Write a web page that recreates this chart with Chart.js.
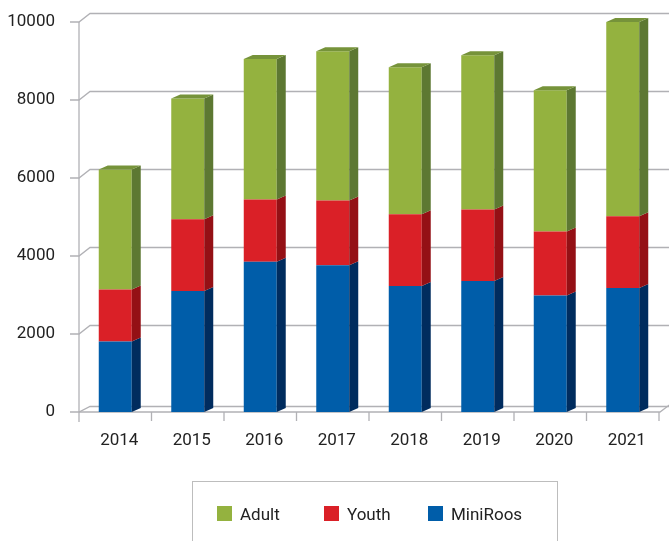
<!DOCTYPE html>
<html lang="en">
<head>
<meta charset="UTF-8">
<title>Registrations by year</title>
<script src="https://cdn.jsdelivr.net/npm/chart.js"></script>
<style>
  html, body { margin: 0; padding: 0; background: #fff; }
  #wrap { position: relative; width: 669px; height: 541px; overflow: hidden; }
  #legend { position: absolute; left: 192px; top: 481px; width: 364px; height: 80px;
            border: 1px solid #bdbdbd; font-family: Roboto, sans-serif; font-size: 17px; color: #222; }
  .item { position: absolute; top: 24px; display: flex; align-items: center; height: 15px; }
  .sw { width: 15px; height: 15px; margin-right: 8px; }
</style>
</head>
<body>
<div id="wrap">
  <canvas id="grafico" width="669" height="541"></canvas>
  <div id="legend"></div>
</div>
<script>
// data
const years = ['2014', '2015', '2016', '2017', '2018', '2019', '2020', '2021'];
const miniRoos = [1810, 3100, 3850, 3760, 3230, 3360, 2990, 3180];
const youth    = [1330, 1840, 1600, 1660, 1840, 1830, 1640, 1840];
const adult    = [3080, 3100, 3600, 3830, 3770, 3960, 3620, 4980];
const yTicks = [0, 2000, 4000, 6000, 8000, 10000];

// front / side / top colours
const cores = {
  MiniRoos: { front: '#005da9', side: '#002c5e', top: '#0a4a85' },
  Youth:    { front: '#da2027', side: '#941015', top: '#b0161c' },
  Adult:    { front: '#94b23f', side: '#5d7832', top: '#76933a' }
};

const barDepth = { dx: 9, dy: -4 };
const wallDx = 11, wallDy = -8.5, floorDy = -5.5;

const fonte = { family: 'Roboto, sans-serif', size: 17 };

// back wall, floor, axis line, tick marks
const parede = {
  id: 'parede',
  beforeDatasetsDraw(chart) {
    const { ctx, chartArea, scales } = chart;
    const { left, right, top, bottom } = chartArea;
    ctx.save();
    ctx.strokeStyle = '#b1b1b5';
    ctx.lineWidth = 1.3;
    scales.y.ticks.forEach(t => {
      const py = scales.y.getPixelForValue(t.value);
      const off = t.value === 0 ? floorDy : wallDy;
      ctx.beginPath();
      ctx.moveTo(left - 9, py);
      ctx.lineTo(left, py);
      ctx.lineTo(left + wallDx, py + off);
      ctx.lineTo(chart.width, py + off);
      ctx.stroke();
    });
    ctx.beginPath();
    ctx.moveTo(left, bottom);
    ctx.lineTo(right + 1, bottom);
    ctx.lineTo(right + wallDx, bottom + floorDy - 2);
    ctx.stroke();
    ctx.beginPath();
    ctx.moveTo(left, top);
    ctx.lineTo(left, bottom + 10);
    ctx.stroke();
    const n = years.length;
    for (let i = 1; i <= n; i++) {
      const px = left + i * (right - left) / n;
      ctx.beginPath();
      ctx.moveTo(px, bottom);
      ctx.lineTo(px, bottom + 9);
      ctx.stroke();
    }
    ctx.restore();
  }
};

// side and top faces of the bars
const barras3d = {
  id: 'barras3d',
  afterDatasetsDraw(chart) {
    const ctx = chart.ctx;
    const n = chart.data.datasets.length;
    const { dx, dy } = barDepth;
    ctx.save();
    chart.data.datasets.forEach((ds, di) => {
      const meta = chart.getDatasetMeta(di);
      const c = cores[ds.label];
      meta.data.forEach(bar => {
        const p = bar.getProps(['x', 'y', 'base', 'width'], true);
        const l = p.x - p.width / 2, r = p.x + p.width / 2;
        ctx.fillStyle = c.side;
        ctx.beginPath();
        ctx.moveTo(r, p.base);
        ctx.lineTo(r + dx, p.base + dy);
        ctx.lineTo(r + dx, p.y + dy);
        ctx.lineTo(r, p.y);
        ctx.closePath();
        ctx.fill();
        if (di === n - 1) {
          ctx.fillStyle = c.top;
          ctx.beginPath();
          ctx.moveTo(l, p.y);
          ctx.lineTo(l + dx, p.y + dy);
          ctx.lineTo(r + dx, p.y + dy);
          ctx.lineTo(r, p.y);
          ctx.closePath();
          ctx.fill();
        }
      });
    });
    ctx.restore();
  }
};

const series = [
  { label: 'MiniRoos', data: miniRoos },
  { label: 'Youth', data: youth },
  { label: 'Adult', data: adult }
];

new Chart(document.getElementById('grafico'), {
  type: 'bar',
  data: {
    labels: years,
    datasets: series.map(s => ({
      label: s.label,
      data: s.data,
      backgroundColor: cores[s.label].front,
      borderWidth: 0,
      categoryPercentage: 1,
      barPercentage: 0.455
    }))
  },
  options: {
    responsive: false,
    animation: false,
    layout: { padding: { top: 22, right: 10, left: 0, bottom: 0 } },
    plugins: { legend: { display: false }, tooltip: { enabled: false } },
    scales: {
      x: {
        stacked: true,
        grid: { display: false, drawTicks: false },
        border: { display: false },
        ticks: { font: fonte, color: '#222', padding: 19, labelOffset: 4 },
        afterFit(scale) { scale.height = 129; }
      },
      y: {
        stacked: true,
        min: 0,
        max: 10000,
        // tick marks are drawn by the plugin; tickLength only spaces the labels
        grid: { display: false, drawTicks: true, tickLength: 24 },
        border: { display: false },
        afterBuildTicks(scale) { scale.ticks = yTicks.map(v => ({ value: v })); },
        ticks: { font: fonte, color: '#222', padding: 0, callback: v => String(v) },
        afterFit(scale) { scale.width = 79; }
      }
    }
  },
  plugins: [parede, barras3d]
});

// legend in the same order as the picture
const legenda = document.getElementById('legend');
const posicoes = [24, 131, 235];
['Adult', 'Youth', 'MiniRoos'].forEach((nome, i) => {
  const item = document.createElement('div');
  item.className = 'item';
  item.style.left = posicoes[i] + 'px';
  item.innerHTML = '<span class="sw" style="background:' + cores[nome].front + '"></span><span>' + nome + '</span>';
  legenda.appendChild(item);
});
</script>
</body>
</html>
